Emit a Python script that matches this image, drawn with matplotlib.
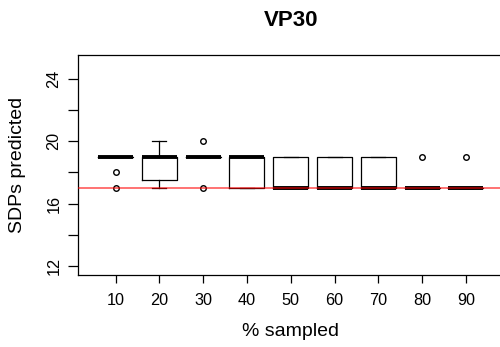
import matplotlib
matplotlib.use("Agg")
import matplotlib.pyplot as plt

plt.rcParams["font.family"] = ["Liberation Sans", "DejaVu Sans"]

# percent sampled categories
pct_sampled = [10, 20, 30, 40, 50, 60, 70, 80, 90]

# box summary stats
q1 = [19, 17.5, 19, 17, 17, 17, 17, 17, 17]
med = [19, 19, 19, 19, 17, 17, 17, 17, 17]
q3 = [19, 19, 19, 19, 19, 19, 19, 17, 17]
whis_lo = [19, 17, 19, 17, 17, 17, 17, 17, 17]
whis_hi = [19, 20, 19, 19, 19, 19, 19, 17, 17]
outliers = [[18, 17], [], [20, 17], [], [], [], [], [19], [19]]

true_sdps = 17

stats = []
for i in range(len(pct_sampled)):
    stats.append(
        {
            "med": med[i],
            "q1": q1[i],
            "q3": q3[i],
            "whislo": whis_lo[i],
            "whishi": whis_hi[i],
            "fliers": outliers[i],
        }
    )

fig = plt.figure(figsize=(5.0, 3.47), dpi=100)
ax = fig.add_axes([0.156, 0.2075, 0.851, 0.634])

positions = list(range(1, len(pct_sampled) + 1))
ax.bxp(
    stats,
    positions=positions,
    widths=0.8,
    showfliers=True,
    boxprops=dict(color="black", linewidth=0.9),
    medianprops=dict(color="black", linewidth=2.8, solid_capstyle="butt"),
    whiskerprops=dict(color="black", linewidth=0.9),
    capprops=dict(color="black", linewidth=0.9),
    flierprops=dict(marker="o", markersize=4, markerfacecolor="none",
                    markeredgecolor="black", markeredgewidth=1.0),
    capwidths=0.32,
)

# true value reference line, semi-transparent like the original
ax.axhline(true_sdps, color="red", alpha=0.7, linewidth=1.1, zorder=5)

ax.set_xlim(0.14, 9.86)
ax.set_ylim(11.42, 25.54)
ax.set_xticks(positions)
ax.set_xticklabels([str(p) for p in pct_sampled])
ax.set_yticks(range(12, 25, 2))
ax.set_yticklabels([str(v) if v % 4 == 0 else "" for v in range(12, 25, 2)],
                   rotation=90, va="center")

ax.tick_params(axis="x", direction="out", length=6, width=0.9, labelsize=11.7, pad=7)
ax.tick_params(axis="y", direction="out", length=7, width=0.9, labelsize=11.7, pad=5)
for sp in ax.spines.values():
    sp.set_linewidth(0.9)

fig.text(290.8 / 500, 1 - 332 / 347, "% sampled", fontsize=14, ha="center", va="center")
fig.text(18 / 500, 1 - 165 / 347, "SDPs predicted", fontsize=14, rotation=90,
         ha="center", va="center")
fig.text(290.8 / 500, 1 - 21 / 347, "VP30", fontsize=16, fontweight="bold",
         ha="center", va="center")

fig.savefig("out.png", dpi=100)
